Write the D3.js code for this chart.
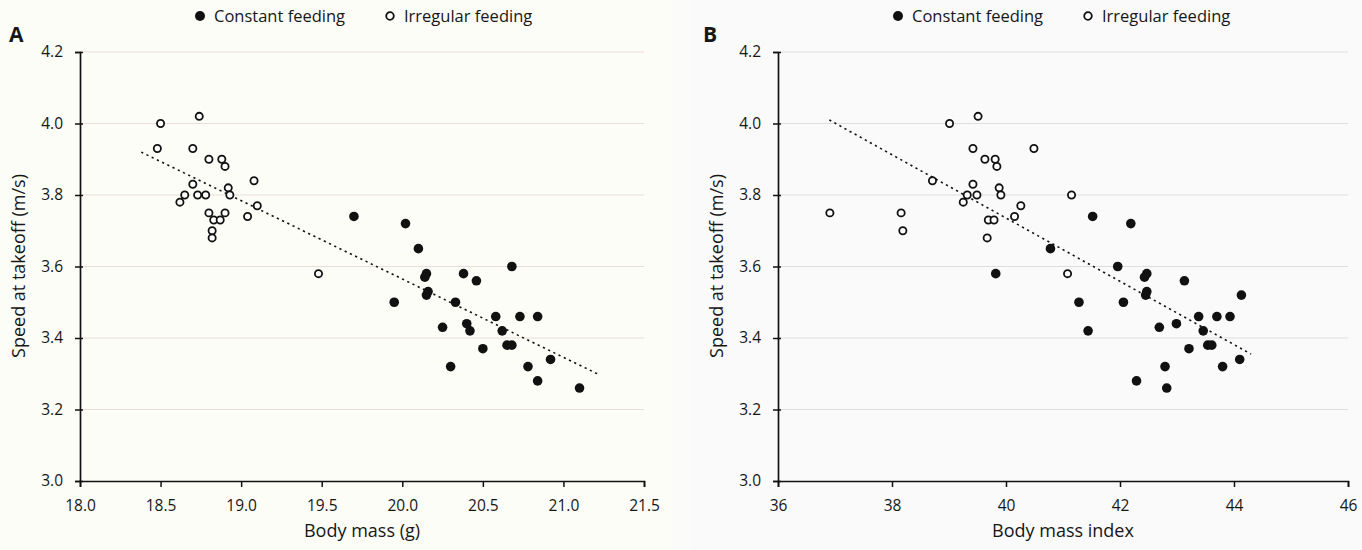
<!DOCTYPE html>
<html>
<head>
<meta charset="utf-8">
<script src="https://cdn.jsdelivr.net/npm/d3@7"></script>
<style>
  body { margin: 0; background: #fbfbf9; }
  svg text { font-family: "Open Sans", "DejaVu Sans", sans-serif; fill: #161616; }
</style>
</head>
<body>
<svg id="chart" width="1362" height="550"></svg>
<script>
// speed at takeoff (m/s), shared y axis
const speedTicks = [3.0, 3.2, 3.4, 3.6, 3.8, 4.0, 4.2];

// panel A : body mass (g)
const massTicks = [18.0, 18.5, 19.0, 19.5, 20.0, 20.5, 21.0, 21.5];
const massConstant = [19.70, 20.02, 20.10, 20.15, 20.14, 20.16, 20.15, 19.95, 20.68, 20.38, 20.46, 20.33, 20.25, 20.40, 20.42, 20.58, 20.73, 20.84, 20.62, 20.50, 20.65, 20.68, 20.92, 20.30, 20.78, 20.84, 21.10];
const speedConstantA = [3.74, 3.72, 3.65, 3.58, 3.57, 3.53, 3.52, 3.50, 3.60, 3.58, 3.56, 3.50, 3.43, 3.44, 3.42, 3.46, 3.46, 3.46, 3.42, 3.37, 3.38, 3.38, 3.34, 3.32, 3.32, 3.28, 3.26];
const massIrregular = [18.50, 18.74, 18.48, 18.70, 18.80, 18.88, 18.90, 18.70, 18.92, 18.93, 19.08, 18.65, 18.62, 18.73, 18.78, 19.10, 18.80, 18.83, 18.87, 18.90, 19.04, 18.82, 18.82, 19.48];
const speedIrregularA = [4.00, 4.02, 3.93, 3.93, 3.90, 3.90, 3.88, 3.83, 3.82, 3.80, 3.84, 3.80, 3.78, 3.80, 3.80, 3.77, 3.75, 3.73, 3.73, 3.75, 3.74, 3.70, 3.68, 3.58];
const massTrend = [18.38, 21.21];
const speedTrendA = [3.92, 3.30];

// panel B : body mass index
const bmiTicks = [36, 38, 40, 42, 44, 46];
const bmiConstant = [41.52, 42.19, 41.96, 42.47, 42.43, 42.47, 42.45, 43.13, 44.13, 41.28, 42.06, 43.38, 43.70, 43.93, 42.69, 42.99, 43.46, 41.44, 43.54, 43.61, 43.21, 44.10, 42.79, 43.80, 42.29, 42.82, 40.78, 39.82];
const speedConstantB = [3.74, 3.72, 3.60, 3.58, 3.57, 3.53, 3.52, 3.56, 3.52, 3.50, 3.50, 3.46, 3.46, 3.46, 3.43, 3.44, 3.42, 3.42, 3.38, 3.38, 3.37, 3.34, 3.32, 3.32, 3.28, 3.26, 3.65, 3.58];
const bmiIrregular = [39.01, 39.51, 39.42, 40.49, 39.63, 39.81, 39.84, 38.71, 39.42, 39.88, 39.32, 39.49, 39.91, 41.15, 39.25, 40.26, 40.15, 39.69, 39.79, 39.67, 38.16, 38.19, 36.91, 41.08];
const speedIrregularB = [4.00, 4.02, 3.93, 3.93, 3.90, 3.90, 3.88, 3.84, 3.83, 3.82, 3.80, 3.80, 3.80, 3.80, 3.78, 3.77, 3.74, 3.73, 3.73, 3.68, 3.75, 3.70, 3.75, 3.58];
const bmiTrend = [36.9, 44.3];
const speedTrendB = [4.01, 3.355];

const svg = d3.select("#chart");

function drawPanel(opt) {
  const x = d3.scaleLinear().domain(opt.xDomain).range(opt.xRange);
  const y = d3.scaleLinear().domain([3.0, 4.2]).range([481, 52]);
  const g = svg.append("g");

  g.append("rect")
    .attr("x", opt.bg[0]).attr("y", 0)
    .attr("width", opt.bg[1]).attr("height", 550)
    .attr("fill", opt.bgColor);

  // gridlines
  g.selectAll(".grid")
    .data(speedTicks.slice(1))
    .enter()
    .append("line")
    .attr("x1", x.range()[0]).attr("x2", x.range()[1])
    .attr("y1", (d) => y(d)).attr("y2", (d) => y(d))
    .attr("stroke", opt.gridColor)
    .attr("stroke-width", 1.2);

  // y axis
  const yAxis = g.append("g")
    .attr("transform", "translate(" + x.range()[0] + ",0)")
    .call(d3.axisLeft(y).tickValues(speedTicks).tickFormat(d3.format(".1f")).tickSize(5).tickPadding(12));
  yAxis.selectAll(".tick line").attr("x1", 3);
  // x axis
  const xAxis = g.append("g")
    .attr("transform", "translate(0,481)")
    .call(d3.axisBottom(x).tickValues(opt.xTicks).tickFormat(opt.xFormat).tickSize(6).tickPadding(13));
  [yAxis, xAxis].forEach((a) => {
    a.select(".domain").attr("stroke", "#111").attr("stroke-width", 1.7);
    a.selectAll(".tick line").attr("stroke", "#111").attr("stroke-width", 1.5);
    a.selectAll("text").style("font-size", "15.5px").attr("fill", "#161616");
  });

  // trend line
  g.append("line")
    .attr("x1", x(opt.trendX[0])).attr("y1", y(opt.trendY[0]))
    .attr("x2", x(opt.trendX[1])).attr("y2", y(opt.trendY[1]))
    .attr("stroke", "#111")
    .attr("stroke-width", 1.6)
    .attr("stroke-dasharray", "2.2,3.6");

  // points
  const irr = opt.irrX.map((v, i) => ({ x: v, y: opt.irrY[i] }));
  const con = opt.conX.map((v, i) => ({ x: v, y: opt.conY[i] }));
  g.selectAll(".irr")
    .data(irr)
    .enter()
    .append("circle")
    .attr("cx", (d) => x(d.x)).attr("cy", (d) => y(d.y))
    .attr("r", 3.6)
    .attr("fill", "#fff")
    .attr("stroke", "#111")
    .attr("stroke-width", 1.8);
  g.selectAll(".con")
    .data(con)
    .enter()
    .append("circle")
    .attr("cx", (d) => x(d.x)).attr("cy", (d) => y(d.y))
    .attr("r", 4.8)
    .attr("fill", "#111");

  // panel letter
  g.append("text")
    .attr("x", opt.letterX).attr("y", 42)
    .style("font-size", "21px").style("font-weight", "bold")
    .text(opt.letter);

  // axis titles
  g.append("text")
    .attr("x", (x.range()[0] + x.range()[1]) / 2).attr("y", 537)
    .attr("text-anchor", "middle")
    .style("font-size", "18px")
    .text(opt.xTitle);
  g.append("text")
    .attr("transform", "translate(" + (x.range()[0] - 55) + ",266) rotate(-90)")
    .attr("text-anchor", "middle")
    .style("font-size", "18px")
    .text("Speed at takeoff (m/s)");

  // legend
  const lx = x.range()[0] + 120;
  const legend = g.append("g").attr("transform", "translate(" + lx + ",16)");
  legend.append("circle").attr("cx", 0).attr("cy", 0).attr("r", 5).attr("fill", "#111");
  legend.append("text").attr("x", 14).attr("y", 5.5).style("font-size", "16.5px").text("Constant feeding");
  legend.append("circle").attr("cx", 190).attr("cy", 0).attr("r", 3.8)
    .attr("fill", "#fff").attr("stroke", "#111").attr("stroke-width", 1.8);
  legend.append("text").attr("x", 204).attr("y", 5.5).style("font-size", "16.5px").text("Irregular feeding");
}

drawPanel({
  letter: "A", letterX: 9,
  xDomain: [18.0, 21.5], xRange: [80, 644], xTicks: massTicks, xFormat: d3.format(".1f"),
  xTitle: "Body mass (g)",
  conX: massConstant, conY: speedConstantA,
  irrX: massIrregular, irrY: speedIrregularA,
  trendX: massTrend, trendY: speedTrendA,
  bg: [0, 672], bgColor: "#fdfdf7", gridColor: "#e9dcdc"
});
drawPanel({
  letter: "B", letterX: 703,
  xDomain: [36, 46], xRange: [778, 1348], xTicks: bmiTicks, xFormat: d3.format("d"),
  xTitle: "Body mass index",
  conX: bmiConstant, conY: speedConstantB,
  irrX: bmiIrregular, irrY: speedIrregularB,
  trendX: bmiTrend, trendY: speedTrendB,
  bg: [690, 672], bgColor: "#fafafa", gridColor: "#dedede"
});
</script>
</body>
</html>
